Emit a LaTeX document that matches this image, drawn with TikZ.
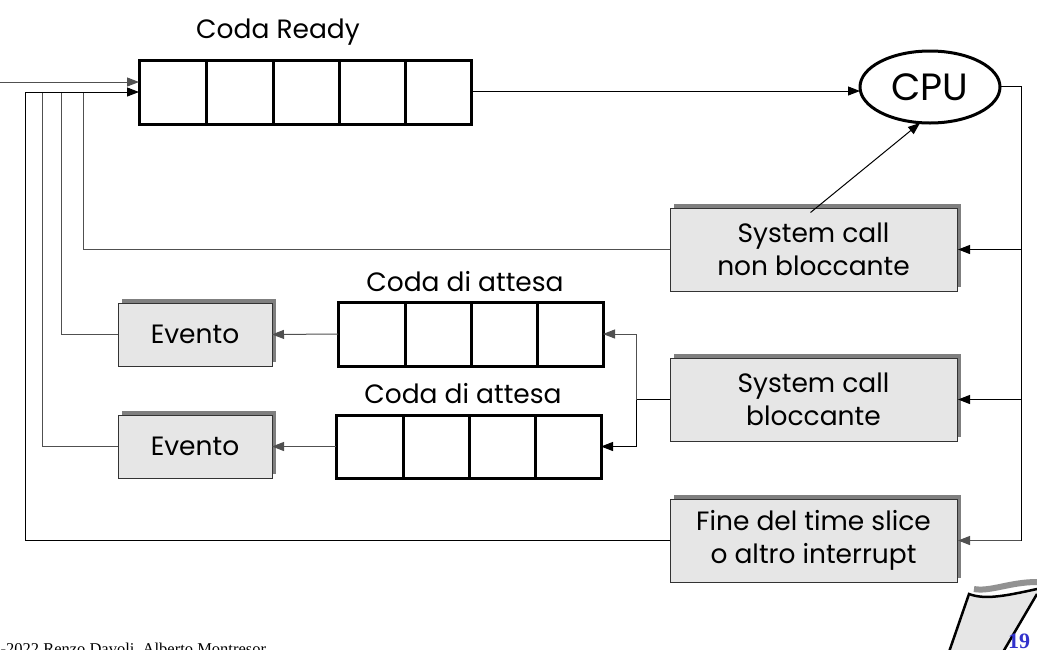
\documentclass[tikz,border=0pt]{standalone}
\usepackage{fontspec}
\setmainfont{Poppins}
\newfontfamily\footfont{Liberation Serif}
\usetikzlibrary{shapes.geometric,arrows.meta,shadows}
\definecolor{boxfill}{HTML}{E6E6E6}
\definecolor{shadowgray}{HTML}{7F7F7F}
\definecolor{linegray}{HTML}{505050}
\definecolor{pagenum}{HTML}{3333CC}
\tikzset{
  every node/.style={inner sep=0pt, outer sep=0pt},
  lbl/.style={font=\fontsize{26.5}{31}\selectfont, text=black},
  greybox/.style={draw=black!80, line width=1pt, fill=boxfill, align=center,
    font=\fontsize{26.5}{33}\selectfont,
    drop shadow={shadow xshift=4pt, shadow yshift=4pt, fill=shadowgray, opacity=1}},
  queue/.style={draw=black, line width=3pt},
  divider/.style={line width=3pt},
  conn/.style={line width=1pt, draw=black},
  arr/.style={conn, -{Triangle[length=12pt,width=9pt]}},
}
\begin{document}
\begin{tikzpicture}[x=1pt,y=-1pt]
\useasboundingbox (0,0) rectangle (1037,649);
\clip (0,0) rectangle (1037,649);
\fill[white] (0,0) rectangle (1037,649);

% Coda Ready
\node[queue, minimum width=332pt, minimum height=64pt] (ready) at (305,92) {};
\foreach \x in {206,273,339,405} \draw[divider] (\x,60) -- (\x,124);
\node[lbl] (readylbl) at (278,32) {Coda Ready};

% CPU
\node[ellipse, draw=black, line width=3pt, minimum width=140pt, minimum height=72pt,
  font=\fontsize{38}{44}\selectfont] (cpu) at (930,87) {CPU};

% Waiting queues
\node[queue, minimum width=265pt, minimum height=64pt] (wq1) at (470.5,334) {};
\foreach \x in {405,471,537} \draw[divider] (\x,302) -- (\x,366);
\node[lbl] (wq1lbl) at (465,282) {Coda di attesa};

\node[queue, minimum width=265pt, minimum height=63pt] (wq2) at (468.5,446.5) {};
\foreach \x in {403,469,535} \draw[divider] (\x,415) -- (\x,478);
\node[lbl] (wq2lbl) at (463,394) {Coda di attesa};

% Grey boxes
\node[greybox, minimum width=287pt, minimum height=83pt] (snb) at (813.5,249.5) {System call\\non bloccante};
\node[greybox, minimum width=287pt, minimum height=83pt] (sb) at (813.5,399.5) {System call\\bloccante};
\node[greybox, minimum width=287pt, minimum height=83pt] (fts) at (813.5,540.5) {Fine del time slice\\o altro interrupt};
\node[greybox, minimum width=154pt, minimum height=63pt] (ev1) at (195,334.5) {Evento};
\node[greybox, minimum width=154pt, minimum height=63pt] (ev2) at (195,446.5) {Evento};

% Coordinates
\coordinate (inL) at (0,82);
\coordinate (rbus) at (1021,86);
\coordinate (sbsplit) at (636,399.5);

% Connectors
\draw[arr, draw=linegray] (inL) -- (inL -| ready.west);
\draw[arr] (ready.east |- 0,91) -- (cpu.west |- 0,91);
\draw[conn] (cpu.east |- rbus) -- (rbus) -- (rbus |- fts.east);
\draw[arr] (rbus |- snb.east) -- ([xshift=1pt]snb.east);
\draw[arr] (rbus |- sb.east) -- ([xshift=1pt]sb.east);
\draw[arr, draw=linegray] (rbus |- fts.east) -- ([xshift=1pt]fts.east);
\draw[arr] ([xshift=-3pt,yshift=37pt]snb.center) -- ([xshift=-10pt]cpu.south);

\draw[conn, draw=linegray] (snb.west) -- (snb.west -| 83,0) -- (83,92);
\draw[conn, draw=linegray] (ev1.west) -- (ev1.west -| 61,0) -- (61,92);
\draw[conn, draw=linegray] (ev2.west) -- (ev2.west -| 42,0) -- (42,92);
\draw[arr] (fts.west) -- (fts.west -| 25,0) -- (25,92) -- (ready.west |- 0,92);

\draw[arr, draw=linegray] (wq1.west) -- (ev1.east);
\draw[arr, draw=linegray] (wq2.west) -- (ev2.east);
\draw[conn] (sb.west) -- (sbsplit);
\draw[arr, draw=linegray] (sbsplit) -- (sbsplit |- wq1.east) -- (wq1.east);
\draw[arr] (sbsplit) -- (sbsplit |- wq2.east) -- (wq2.east);

% Footer
\node[anchor=base east, font=\footfont\fontsize{16.5}{19}\selectfont] (foot) at (266,654) {© 2002-2022 Renzo Davoli, Alberto Montresor};

% Page curl
\draw[line width=6pt, draw=shadowgray!85] (974,589) .. controls (990,592) and (1010,582) .. (1037,582);
\fill[boxfill] (949,652) -- (969,594) .. controls (985,600) and (1005,596) .. (1037,589) -- (1037,594) -- (1003,652) -- cycle;
\draw[line width=2.5pt] (949,652) -- (969,594) .. controls (985,600) and (1005,596) .. (1037,589);
\draw[line width=2.5pt] (1037,594) -- (1003,652);
\node[font=\footfont\bfseries\fontsize{22}{24}\selectfont, text=pagenum] (pg) at (1019,641) {19};
\end{tikzpicture}
\end{document}
